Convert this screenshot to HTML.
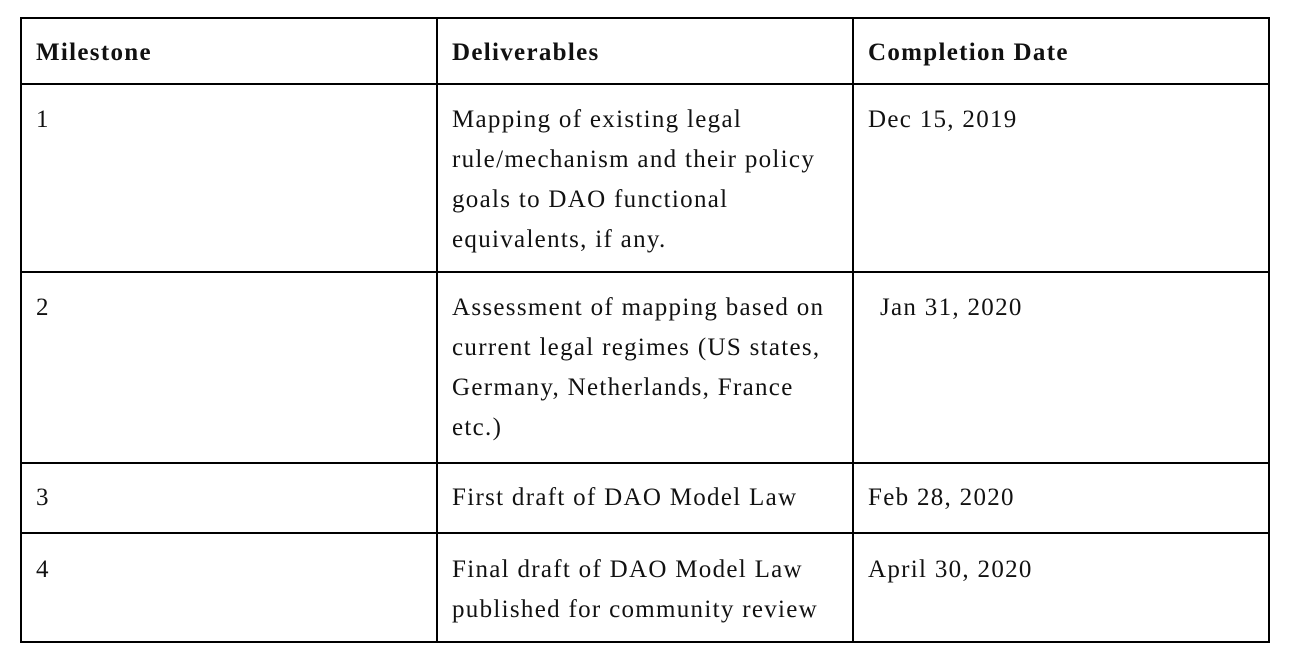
<!DOCTYPE html>
<html>
<head>
<meta charset="utf-8">
<style>
  html,body{margin:0;padding:0;background:#fff;}
  body{width:1294px;height:662px;position:relative;overflow:hidden;
       font-family:"Liberation Serif",serif;font-size:25px;color:#111;letter-spacing:1.3px;}
  .ln{position:absolute;background:#000;}
  .t{position:absolute;line-height:40px;white-space:nowrap;}
  .b{font-weight:bold;}
</style>
</head>
<body>
<div>
  <div class="ln" style="left:20px;top:17px;width:1250px;height:2px"></div>
  <div class="ln" style="left:20px;top:641px;width:1250px;height:2px"></div>
  <div class="ln" style="left:20px;top:17px;width:2px;height:626px"></div>
  <div class="ln" style="left:1268px;top:17px;width:2px;height:626px"></div>
  <div class="ln" style="left:436px;top:17px;width:2px;height:626px"></div>
  <div class="ln" style="left:852px;top:17px;width:2px;height:626px"></div>
  <div class="ln" style="left:20px;top:83px;width:1250px;height:2px"></div>
  <div class="ln" style="left:20px;top:271px;width:1250px;height:2px"></div>
  <div class="ln" style="left:20px;top:462px;width:1250px;height:2px"></div>
  <div class="ln" style="left:20px;top:532px;width:1250px;height:2px"></div>

  <div class="t b" style="left:36px;top:33px">Milestone</div>
  <div class="t b" style="left:452px;top:33px">Deliverables</div>
  <div class="t b" style="left:868px;top:33px">Completion Date</div>

  <div class="t" style="left:36px;top:100px">1</div>
  <div class="t" style="left:452px;top:100px">Mapping of existing legal<br>rule/mechanism and their policy<br>goals to DAO functional<br>equivalents, if any.</div>
  <div class="t" style="left:868px;top:100px">Dec 15, 2019</div>

  <div class="t" style="left:36px;top:288px">2</div>
  <div class="t" style="left:452px;top:288px">Assessment of mapping based on<br>current legal regimes (US states,<br>Germany, Netherlands, France<br>etc.)</div>
  <div class="t" style="left:880px;top:288px">Jan 31, 2020</div>

  <div class="t" style="left:36px;top:478px">3</div>
  <div class="t" style="left:452px;top:478px">First draft of DAO Model Law</div>
  <div class="t" style="left:868px;top:478px">Feb 28, 2020</div>

  <div class="t" style="left:36px;top:550px">4</div>
  <div class="t" style="left:452px;top:550px">Final draft of DAO Model Law<br>published for community review</div>
  <div class="t" style="left:868px;top:550px">April 30, 2020</div>
</div>
</body>
</html>
